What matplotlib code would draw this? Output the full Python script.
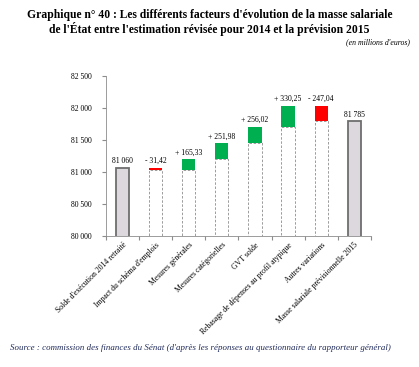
import matplotlib
matplotlib.use("Agg")
import matplotlib.pyplot as plt
import numpy as np

categories = [
    "Solde d'exécution 2014 retraité",
    "Impact du schéma d'emplois",
    "Mesures générales",
    "Mesures catégorielles",
    "GVT solde",
    "Rebasage de dépenses au profil atypique",
    "Autres variations",
    "Masse salariale prévisionnelle 2015",
]
deltas = [81060, -31.42, 165.33, 251.98, 256.02, 330.25, -247.04, 81785]
labels = ["81 060", "- 31,42", "+ 165,33", "+ 251,98", "+ 256,02",
          "+ 330,25", "- 247,04", "81 785"]
yticks = [80000, 80500, 81000, 81500, 82000, 82500]
ytick_labels = ["80 000", "80 500", "81 000", "81 500", "82 000", "82 500"]

plt.rcParams["font.family"] = ["Liberation Serif", "DejaVu Serif"]

fig = plt.figure(figsize=(4.19, 3.67), dpi=100)
ax = fig.add_axes([0.253, 0.358, 0.632, 0.436])

x = np.arange(len(categories))
w = 0.4
running = deltas[0]
for i, d in enumerate(deltas):
    if i == 0 or i == len(deltas) - 1:
        ax.bar(x[i], d, w, color="#dcd8de", edgecolor="#6e6e6e", linewidth=1.3, zorder=3)
        top = d
    else:
        start = running
        end = running + d
        low, high = min(start, end), max(start, end)
        ax.bar(x[i], low, w, color="white", edgecolor="#8c8c8c", linewidth=0.6,
               linestyle=(0, (3, 2)), zorder=2)
        ax.bar(x[i], high - low, w, bottom=low,
               color="#00b050" if d > 0 else "#ff0000", linewidth=0, zorder=3)
        running = end
        top = high
    ax.text(x[i], top + 40, labels[i], ha="center", va="bottom", fontsize=5.5)

ax.set_xlim(-0.5, len(categories) - 0.5)
ax.set_ylim(80000, 82500)
ax.set_yticks(yticks)
ax.set_yticklabels(ytick_labels, fontsize=5.5)
ax.set_xticks(np.arange(len(categories) + 1) - 0.5)
ax.set_xticklabels([])
ax.set_xticks(x, minor=True)
ax.set_xticklabels(categories, minor=True, rotation=45, ha="right",
                   rotation_mode="anchor", fontsize=5.6)
ax.tick_params(axis="x", which="minor", length=0, pad=4)
ax.tick_params(axis="x", which="major", length=3, direction="out", color="#8c8c8c")
ax.tick_params(axis="y", length=3, color="#8c8c8c", pad=7)
for s in ["top", "right"]:
    ax.spines[s].set_visible(False)
for s in ["left", "bottom"]:
    ax.spines[s].set_color("#8c8c8c")
    ax.spines[s].set_linewidth(0.6)

fig.text(0.5, 0.975, "Graphique n° 40 : Les différents facteurs d'évolution de la masse salariale\n"
         "de l'État entre l'estimation révisée pour 2014 et la prévision 2015",
         ha="center", va="top", fontsize=8.35, fontweight="bold", linespacing=1.1)
fig.text(0.978, 0.885, "(en millions d'euros)", ha="right", va="center",
         fontsize=5.6, style="italic")
fig.text(0.025, 0.052, "Source : commission des finances du Sénat (d'après les réponses au "
         "questionnaire du rapporteur général)", ha="left", va="center",
         fontsize=6.4, style="italic", color="#1f2a5a")

fig.savefig("out.png", dpi=100)
